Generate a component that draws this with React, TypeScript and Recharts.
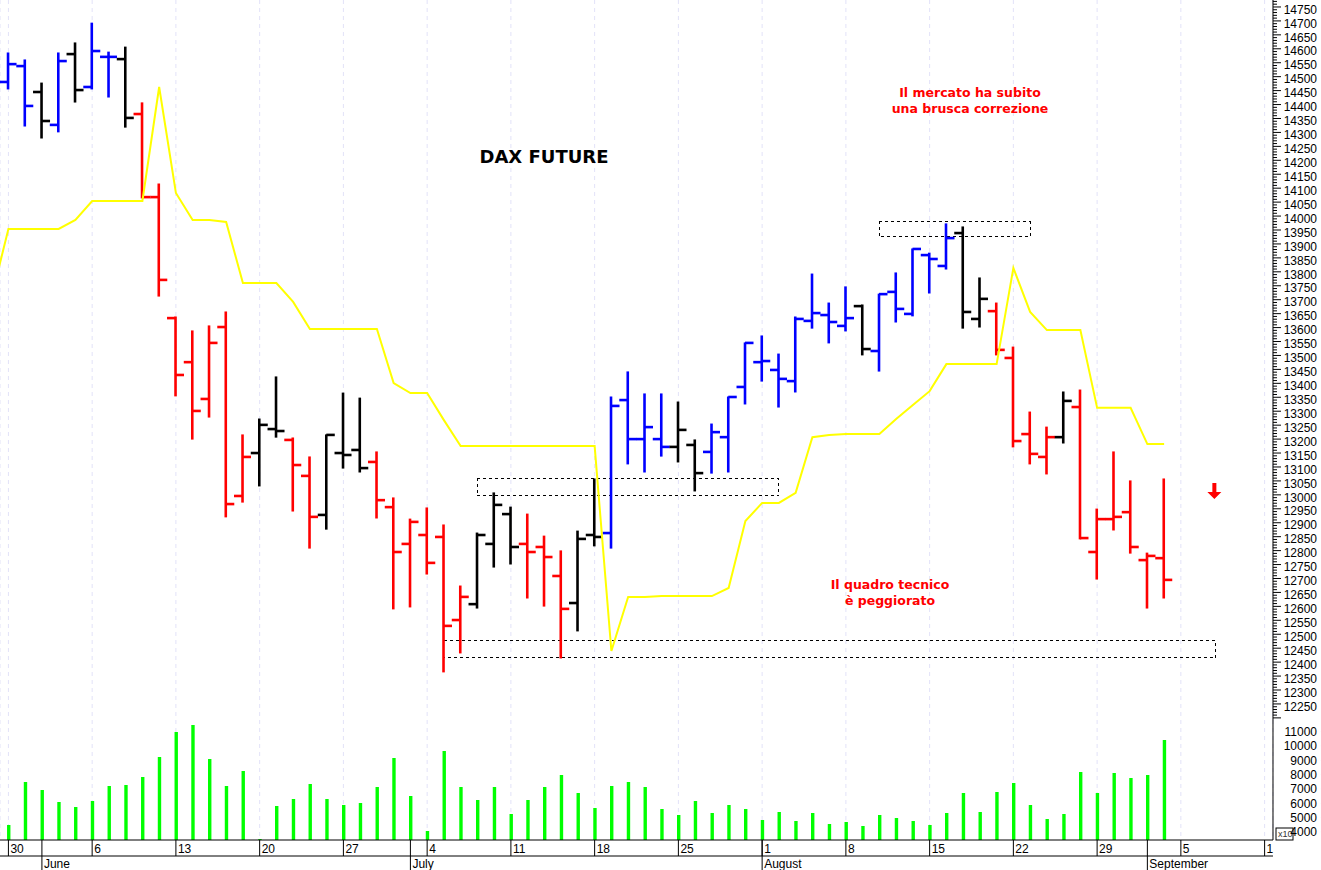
import React from 'react'
import {
  Bar,
  CartesianGrid,
  ComposedChart,
  Line,
  ReferenceArea,
  ReferenceDot,
  XAxis,
  YAxis,
} from 'recharts'

// first entry is the session just before the left edge of the picture
const opens = [
  14524, 14481, 14538, 14445, 14327, 14581, 14463, 14571, 14563, 14366, 14068, 13634, 13476, 13344,
  13602, 12996, 13150, 13236, 13197, 13068, 12928, 13150, 13161, 13118, 12956, 12824, 12856, 12849,
  12551, 12608, 12824, 12931, 12824, 12813, 12709, 12612, 12856, 12863, 13340, 13200, 13200, 13172,
  13179, 13154, 13207, 13387, 13476, 13448, 13408, 13624, 13645, 13606, 13677, 13516, 13728, 13649,
  13860, 13821, 13939, 13631, 13659, 13491, 13218, 13136, 13207, 13315, 12795, 12913, 12938, 12766,
  12773,
]
const highs = [
  14560, 14585, 14560, 14477, 14585, 14621, 14692, 14588, 14606, 14406, 14115, 13638, 13588, 13606,
  13656, 13215, 13272, 13423, 13204, 13136, 13215, 13365, 13347, 13154, 12989, 12913, 12953, 12892,
  12673, 12863, 13007, 12956, 12931, 12852, 12799, 12870, 13057, 13351, 13441, 13362, 13362, 13333,
  13197, 13254, 13351, 13545, 13570, 13505, 13638, 13792, 13688, 13746, 13681, 13720, 13796, 13882,
  13867, 13972, 13961, 13778, 13688, 13530, 13297, 13243, 13369, 13376, 12949, 13154, 13050, 12791,
  13057,
]
const lows = [
  14380, 14456, 14323, 14280, 14302, 14409, 14456, 14427, 14319, 14065, 13713, 13355, 13200, 13279,
  12921, 12974, 13032, 13207, 12942, 12809, 12877, 13096, 13082, 12917, 12591, 12598, 12716, 12365,
  12433, 12594, 12741, 12752, 12630, 12601, 12415, 12512, 12817, 12809, 13111, 13082, 13139, 13118,
  13014, 13078, 13082, 13326, 13408, 13315, 13369, 13598, 13545, 13588, 13502, 13444, 13620, 13642,
  13724, 13810, 13598, 13602, 13502, 13172, 13111, 13075, 13186, 12842, 12698, 12874, 12791, 12594,
  12630,
]
const closes = [
  14445, 14545, 14395, 14341, 14556, 14452, 14592, 14571, 14352, 14068, 13771, 13430, 13301, 13545,
  12967, 13136, 13251, 13229, 13107, 12921, 13215, 13143, 13096, 12981, 12795, 12903, 12756, 12530,
  12634, 12856, 12964, 12813, 12795, 12777, 12591, 12842, 12849, 13319, 13200, 13243, 13172, 13233,
  13078, 13225, 13351, 13545, 13480, 13416, 13631, 13652, 13620, 13634, 13523, 13720, 13667, 13882,
  13846, 13921, 13656, 13703, 13520, 13193, 13147, 13207, 13337, 12845, 12913, 12921, 12813, 12781,
  12695,
]
const stops = [
  13710, 13954, 13954, 13954, 13954, 13986, 14054, 14054, 14054, 14054, 14463, 14083, 13986, 13986,
  13979, 13760, 13760, 13760, 13692, 13595, 13595, 13595, 13595, 13595, 13401, 13365, 13365, 13268,
  13175, 13175, 13175, 13175, 13175, 13175, 13175, 13175, 13175, 12440, 12634, 12634, 12637, 12637,
  12637, 12637, 12666, 12906, 12971, 12971, 13007, 13207, 13215, 13218, 13218, 13218, 13272, 13322,
  13372, 13469, 13469, 13469, 13469, 13814, 13656, 13591, 13591, 13591, 13312, 13312, 13312, 13182,
  13182,
]
const volumes = [
  null, 4487, 7487, 6929, 6092, 5743, 6161, 7208, 7278, 7836, 9232, 10976, 11465, 9092, 7208, 8255,
  3510, 5813, 6301, 7348, 6301, 5882, 6022, 7138, 9162, 6510, 4068, 9650, 7138, 6231, 7138, 5254,
  6231, 7138, 7976, 6720, 5673, 7208, 7487, 7138, 5603, 5185, 6161, 5324, 5882, 5603, 4836, 5394,
  4766, 5324, 4556, 4696, 4417, 5185, 4975, 4766, 4487, 5324, 6720, 5394, 6789, 7417, 5882, 4905,
  5254, 8185, 6720, 8115, 7766, 7976, 10418,
]
const trend = [
  'up', 'up', 'up', 'flat', 'up', 'flat', 'up', 'up', 'flat', 'down', 'down', 'down', 'down', 'down',
  'down', 'down', 'flat', 'flat', 'down', 'down', 'flat', 'flat', 'flat', 'down', 'down', 'down',
  'down', 'down', 'down', 'flat', 'flat', 'flat', 'down', 'down', 'down', 'flat', 'flat', 'up', 'up',
  'up', 'up', 'flat', 'flat', 'up', 'up', 'up', 'up', 'up', 'up', 'up', 'up', 'up', 'flat', 'up', 'up',
  'up', 'up', 'up', 'flat', 'flat', 'down', 'down', 'down', 'down', 'flat', 'down', 'down', 'down',
  'down', 'down', 'down',
]

const weekTicks = [0, 5, 10, 15, 20, 25, 30, 35, 40, 45, 50, 55, 60, 65, 70, 75]
const weekLabels = ['30', '6', '13', '20', '27', '4', '11', '18', '25', '1', '8', '15', '22', '29', '5', '1']
const monthTicks = [2, 24, 45, 68]
const monthLabels = ['June', 'July', 'August', 'September']
const volumeTicks = [4000, 5000, 6000, 7000, 8000, 9000, 10000, 11000]
const priceTicks = Array.from({ length: 258 }, (_, i) => 12200 + i * 10)

const TREND_COLORS = { up: '#0000ff', flat: '#000000', down: '#ff0000' }
const LABEL_FONT = '"Liberation Sans", Arial, sans-serif'
const NOTE_FONT = '"DejaVu Sans", Verdana, sans-serif'

const data = opens.map((open, i) => ({
  session: i - 1,
  open,
  high: highs[i],
  low: lows[i],
  close: closes[i],
  stop: stops[i],
  volume: volumes[i],
  trend: trend[i],
}))

function OhlcBar(props: any) {
  const { x, y, width, height, payload } = props
  const { open, high, low, close } = payload
  const cx = x + width / 2
  const at = (price: number) => y + ((high - price) / (high - low)) * height
  const color = TREND_COLORS[payload.trend]
  return (
    <g stroke={color} strokeWidth={2.6}>
      <line x1={cx} x2={cx} y1={y - 0.5} y2={y + height + 0.5} />
      <line x1={cx - 8.5} x2={cx} y1={at(open)} y2={at(open)} />
      <line x1={cx} x2={cx + 8.5} y1={at(close)} y2={at(close)} />
    </g>
  )
}

function PriceTick(props: any) {
  const { x, y, payload } = props
  const major = payload.value % 50 === 0
  return (
    <g>
      <line x1={x} x2={x + (major ? 8 : 4)} y1={y} y2={y} stroke="#000" />
      {major && payload.value >= 12250 && payload.value <= 14750 && (
        <text x={1317} y={y + 6.7} textAnchor="end" fontSize={12} fontFamily={LABEL_FONT} fill="#000">
          {payload.value}
        </text>
      )}
    </g>
  )
}

function VolumeTick(props: any) {
  const { x, y, payload } = props
  return (
    <g>
      <line x1={x} x2={x + 8} y1={y} y2={y} stroke="#000" />
      <text x={1317} y={y + 4.3} textAnchor="end" fontSize={12} fontFamily={LABEL_FONT} fill="#000">
        {payload.value}
      </text>
    </g>
  )
}

function WeekTick(props: any) {
  const { x, index } = props
  return (
    <g>
      <line x1={x} x2={x} y1={840} y2={856} stroke="#000" />
      <text x={x + 2} y={853} fontSize={12} fontFamily={LABEL_FONT} fill="#000">
        {weekLabels[index]}
      </text>
    </g>
  )
}

function MonthTick(props: any) {
  const { x, index } = props
  return (
    <g>
      <line x1={x} x2={x} y1={840} y2={870} stroke="#000" />
      <text x={x + 2} y={868} fontSize={12} fontFamily={LABEL_FONT} fill="#000">
        {monthLabels[index]}
      </text>
    </g>
  )
}

function DownArrow(props: any) {
  const { cx, cy } = props
  return <path d={`M${cx - 2} ${cy - 8}h4v9h5l-7 7l-7 -7h5z`} fill="#ff0000" />
}

function Note({ x, y, lines }: { x: number; y: number; lines: string[] }) {
  return (
    <text textAnchor="middle" fontSize={12.5} fontWeight="bold" fontFamily={NOTE_FONT} fill="#ff0000">
      {lines.map((line, i) => (
        <tspan key={line} x={x} y={y + i * 16}>
          {line}
        </tspan>
      ))}
    </text>
  )
}

export default function App() {
  return (
    <div style={{ position: 'absolute', left: 0, top: 0, width: 1321, height: 870, background: '#fff' }}>
      <ComposedChart
        width={1321}
        height={870}
        data={data}
        margin={{ top: 0, right: 0, bottom: 0, left: 0 }}
      >
        <CartesianGrid
          xAxisId="days"
          yAxisId="price"
          horizontal={false}
          stroke="#e2e2f8"
          strokeDasharray="4 4"
        />
        <XAxis
          xAxisId="days"
          dataKey="session"
          type="number"
          domain={[-0.502, 75.5]}
          allowDataOverflow
          ticks={weekTicks}
          interval={0}
          height={16}
          tickLine={false}
          stroke="#000"
          tick={<WeekTick />}
        />
        <XAxis
          xAxisId="months"
          dataKey="session"
          type="number"
          domain={[-0.502, 75.5]}
          allowDataOverflow
          ticks={monthTicks}
          interval={0}
          height={14}
          tickLine={false}
          stroke="#000"
          tick={<MonthTick />}
        />
        {/* nearly no width, so that it shares its position with the price axis */}
        <YAxis
          yAxisId="volume"
          orientation="right"
          width={0.01}
          domain={[3440, 62055]}
          allowDataOverflow
          ticks={volumeTicks}
          interval={0}
          tickSize={0}
          tickMargin={0}
          tickLine={false}
          axisLine={false}
          tick={<VolumeTick />}
        />
        <YAxis
          yAxisId="price"
          orientation="right"
          width={48}
          domain={[11762, 14775]}
          allowDataOverflow
          ticks={priceTicks}
          interval={0}
          tickSize={0}
          tickMargin={0}
          tickLine={false}
          stroke="#000"
          tick={<PriceTick />}
        />

        <ReferenceArea
          xAxisId="days"
          yAxisId="price"
          x1={28}
          x2={46}
          y1={12996}
          y2={13060}
          fill="none"
          stroke="#000"
          strokeDasharray="3 3"
          shapeRendering="crispEdges"
        />
        <ReferenceArea
          xAxisId="days"
          yAxisId="price"
          x1={52}
          x2={61}
          y1={13925}
          y2={13979}
          fill="none"
          stroke="#000"
          strokeDasharray="3 3"
          shapeRendering="crispEdges"
        />
        <ReferenceArea
          xAxisId="days"
          yAxisId="price"
          x1={26}
          x2={72.08}
          y1={12415}
          y2={12476}
          fill="none"
          stroke="#000"
          strokeDasharray="3 3"
          shapeRendering="crispEdges"
        />

        <Bar
          xAxisId="months"
          yAxisId="volume"
          dataKey="volume"
          fill="#00ff00"
          barSize={3.4}
          isAnimationActive={false}
        />
        <Bar
          xAxisId="days"
          yAxisId="price"
          dataKey={(d: any) => [d.low, d.high]}
          barSize={2}
          shape={<OhlcBar />}
          isAnimationActive={false}
        />
        <Line
          xAxisId="days"
          yAxisId="price"
          dataKey="stop"
          type="linear"
          stroke="#ffff00"
          strokeWidth={2}
          dot={false}
          isAnimationActive={false}
        />
        <ReferenceDot xAxisId="days" yAxisId="price" x={72} y={13014} shape={<DownArrow />} />

        <text
          x={544}
          y={163}
          textAnchor="middle"
          fontSize={18}
          fontWeight="bold"
          fontFamily={NOTE_FONT}
          fill="#000"
        >
          DAX FUTURE
        </text>
        <Note x={970} y={97} lines={['Il mercato ha subito', 'una brusca correzione']} />
        <Note x={890} y={589} lines={['Il quadro tecnico', 'è peggiorato']} />
        <rect x={1276} y={828} width={17} height={12} fill="#fff" stroke="#000" />
        <text x={1278} y={837} fontSize={9} fontFamily={LABEL_FONT} fill="#333">
          x10
        </text>
      </ComposedChart>
    </div>
  )
}
